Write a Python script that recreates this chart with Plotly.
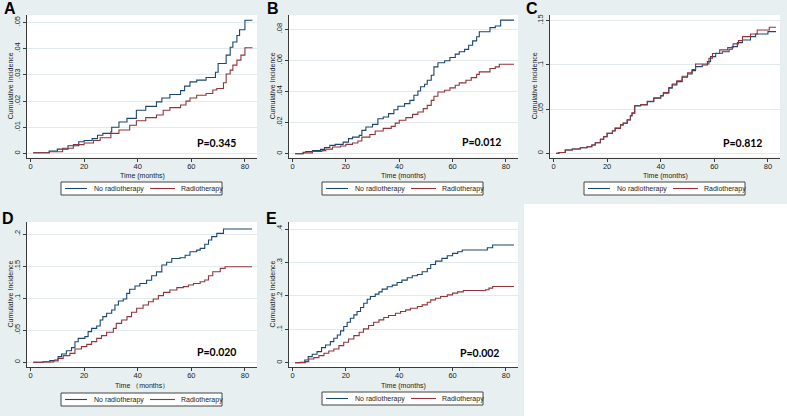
import plotly.graph_objects as go

# ---------------- data ----------------
x_tick_vals = [0, 20, 40, 60, 80]
x_tick_text = ["0", "20", "40", "60", "80"]

# Panel A
a_time_no = [1, 7, 10, 14, 18, 20, 23, 25, 27, 30, 30.3, 33, 36, 39.5, 43, 47, 49, 52, 56, 57.5, 59.5, 62, 65.5, 69, 70, 73, 74.5, 75.5, 77, 78, 80, 82.8]
a_inc_no = [0.0003, 0.001, 0.0017, 0.003, 0.0045, 0.005, 0.0057, 0.007, 0.0077, 0.0083, 0.010, 0.012, 0.0134, 0.0165, 0.018, 0.0197, 0.0212, 0.0225, 0.024, 0.0257, 0.0273, 0.028, 0.029, 0.031, 0.0343, 0.0375, 0.0405, 0.0425, 0.045, 0.0472, 0.0508, 0.0508]
a_time_rt = [1, 7, 12, 16, 20, 23.5, 26, 30, 33, 37, 39.5, 43, 47, 49.5, 52, 56, 58, 59.5, 62, 65.5, 68, 69.5, 72, 73, 74.5, 75.5, 77, 78.5, 80, 82.8]
a_inc_rt = [0.0003, 0.0007, 0.002, 0.0034, 0.004, 0.005, 0.006, 0.0077, 0.009, 0.0108, 0.0125, 0.0137, 0.0147, 0.0165, 0.0175, 0.0185, 0.020, 0.0212, 0.0222, 0.0229, 0.0242, 0.0248, 0.027, 0.0303, 0.0318, 0.0337, 0.0356, 0.0375, 0.0403, 0.0403]
a_y_ticks = [0, 0.01, 0.02, 0.03, 0.04, 0.05]
a_y_text = ["0", ".01", ".02", ".03", ".04", ".05"]

# Panel B
b_time_no = [1, 4, 5, 7.5, 10.5, 12, 14, 16, 19, 21, 22.5, 25, 26, 27.5, 30, 32, 34, 36, 38, 39.5, 42, 44, 45.5, 47, 48, 49.5, 50.5, 52, 53, 54.5, 57, 59, 61, 62.5, 64.5, 66, 67.5, 69, 70, 74, 76, 78, 83]
b_inc_no = [0, 0.001, 0.0015, 0.002, 0.0028, 0.004, 0.0054, 0.006, 0.0075, 0.0097, 0.0107, 0.0118, 0.015, 0.0172, 0.0189, 0.0225, 0.0236, 0.0258, 0.0283, 0.0305, 0.0322, 0.0343, 0.0376, 0.0403, 0.043, 0.0446, 0.0472, 0.0504, 0.0558, 0.0584, 0.0597, 0.0618, 0.064, 0.0655, 0.067, 0.0697, 0.0725, 0.0751, 0.0783, 0.081, 0.082, 0.0858, 0.0858]
b_time_rt = [1, 4, 7.5, 11, 12.5, 15, 18, 20, 22.5, 24.5, 26, 29, 31, 34, 37, 38.5, 40, 42.5, 45, 47, 49, 50.5, 52, 53, 54.5, 57, 59, 61, 62.5, 65, 67, 69, 70, 74, 76, 77.5, 83]
b_inc_rt = [0, 0.0006, 0.0015, 0.002, 0.003, 0.0043, 0.005, 0.006, 0.0069, 0.0082, 0.0107, 0.0124, 0.0146, 0.0163, 0.0176, 0.0197, 0.0215, 0.0232, 0.0253, 0.0268, 0.029, 0.0311, 0.0343, 0.0369, 0.0397, 0.0408, 0.0423, 0.044, 0.0455, 0.0472, 0.0489, 0.051, 0.0526, 0.0547, 0.0558, 0.0575, 0.0575]
b_y_ticks = [0, 0.02, 0.04, 0.06, 0.08]
b_y_text = ["0", ".02", ".04", ".06", ".08"]

# Panel C
c_time_no = [1, 2, 4.4, 7, 10, 12.5, 14.3, 15.6, 17.5, 18.7, 20, 22, 23, 25, 26, 27.5, 28.7, 29.3, 30.3, 32.5, 35, 37.4, 40, 41, 43, 44.3, 46, 48, 50, 51.7, 53, 55.5, 57.4, 58.6, 60.5, 63, 65.5, 66.7, 68.6, 70.5, 73.5, 75.4, 80, 83]
c_inc_no = [0, 0.001, 0.0038, 0.005, 0.0064, 0.0075, 0.0094, 0.012, 0.0158, 0.0189, 0.0226, 0.0253, 0.0283, 0.032, 0.034, 0.0377, 0.0423, 0.0453, 0.0536, 0.0547, 0.0585, 0.0623, 0.065, 0.068, 0.0736, 0.0774, 0.0811, 0.086, 0.0898, 0.0936, 0.0981, 0.100, 0.1038, 0.1094, 0.1132, 0.115, 0.1177, 0.1207, 0.1253, 0.1283, 0.132, 0.135, 0.1377, 0.1377]
c_time_rt = [1, 2, 4.4, 7, 10, 12.5, 14.3, 15.6, 17.5, 18.7, 20, 22, 23, 25, 26, 27.5, 28.7, 29.3, 30.3, 32.5, 35, 37.4, 40, 41, 43, 44.3, 46, 48, 50, 51.7, 53, 58, 59.3, 62, 65, 67, 69, 70.5, 73.5, 76, 80.5, 83]
c_inc_rt = [0, 0.001, 0.0038, 0.005, 0.0064, 0.0075, 0.0094, 0.012, 0.0158, 0.0189, 0.0226, 0.0255, 0.0285, 0.0322, 0.0342, 0.038, 0.0428, 0.0458, 0.0542, 0.0552, 0.059, 0.0628, 0.0655, 0.0688, 0.0745, 0.0784, 0.0822, 0.0872, 0.091, 0.0948, 0.101, 0.1075, 0.113, 0.117, 0.1196, 0.1238, 0.1275, 0.132, 0.135, 0.1396, 0.1426, 0.1426]
c_y_ticks = [0, 0.05, 0.1, 0.15]
c_y_text = ["0", ".05", ".1", ".15"]

# Panel D
d_time_no = [1, 4.7, 7.2, 9, 10.3, 11.6, 13.4, 15.3, 16.6, 17.8, 20.3, 21.5, 22.8, 24.7, 26, 27, 28.4, 30.3, 31.5, 32.8, 34.6, 35.9, 37, 39, 40.8, 43.3, 45.2, 47, 49, 50.8, 52.7, 55.8, 57.7, 59.5, 62, 63.3, 65, 66.4, 67.6, 69.5, 72, 82.6]
d_inc_no = [0, 0.001, 0.0026, 0.0036, 0.0088, 0.013, 0.018, 0.0229, 0.032, 0.0374, 0.040, 0.0478, 0.053, 0.0566, 0.066, 0.0712, 0.0764, 0.0816, 0.0894, 0.0956, 0.0987, 0.1075, 0.114, 0.119, 0.123, 0.128, 0.135, 0.141, 0.1517, 0.156, 0.162, 0.163, 0.167, 0.1725, 0.175, 0.1777, 0.184, 0.1907, 0.196, 0.201, 0.2078, 0.2078]
d_time_rt = [1, 4.7, 8.5, 10.3, 12.2, 14.7, 16.6, 19, 21, 22.8, 24.7, 26.5, 28.4, 30.9, 32, 34, 36, 37.7, 39.6, 42, 44, 45.8, 47.7, 49.6, 52, 54.6, 57, 58.9, 60.8, 63.3, 65, 66.4, 68, 70.8, 72.6, 82.6]
d_inc_rt = [0, 0.0005, 0.002, 0.0062, 0.0104, 0.014, 0.0208, 0.0244, 0.028, 0.0322, 0.0374, 0.0416, 0.0468, 0.053, 0.0608, 0.066, 0.0712, 0.078, 0.0842, 0.0894, 0.0945, 0.0987, 0.104, 0.109, 0.1127, 0.1164, 0.118, 0.1205, 0.123, 0.1257, 0.1283, 0.135, 0.1413, 0.1465, 0.149, 0.149]
d_y_ticks = [0, 0.05, 0.1, 0.15, 0.2]
d_y_text = ["0", ".05", ".1", ".15", ".2"]

# Panel E
e_time_no = [1, 3, 4.6, 5.9, 7.4, 9.2, 10.9, 12.4, 14.2, 15.5, 16.8, 18, 19.2, 20.5, 21.7, 23, 24.2, 25.5, 26.7, 28, 29.2, 31, 32.4, 33.6, 35.5, 37.4, 39.2, 41, 43, 44.9, 46.8, 48.6, 50.5, 51.8, 53.6, 56, 58, 60, 61.9, 63.6, 73, 75, 83]
e_inc_no = [0, 0.001, 0.008, 0.018, 0.025, 0.033, 0.045, 0.053, 0.063, 0.073, 0.083, 0.095, 0.108, 0.121, 0.133, 0.143, 0.153, 0.165, 0.178, 0.19, 0.198, 0.205, 0.212, 0.22, 0.227, 0.232, 0.24, 0.247, 0.254, 0.26, 0.264, 0.272, 0.282, 0.294, 0.304, 0.312, 0.32, 0.327, 0.332, 0.337, 0.344, 0.352, 0.352]
e_time_rt = [1, 4.9, 6.1, 8, 9.9, 11.8, 13.6, 15.5, 17.4, 19.2, 21, 23, 25, 26.6, 28.5, 30.4, 32.4, 34.2, 36, 38.6, 40.5, 42.4, 44.2, 46.8, 48.6, 50.5, 51.8, 53.6, 55.5, 58, 60, 61.9, 64, 72.4, 73.6, 75, 83]
e_inc_rt = [0, 0.003, 0.011, 0.015, 0.021, 0.028, 0.035, 0.041, 0.051, 0.061, 0.071, 0.081, 0.091, 0.101, 0.111, 0.121, 0.128, 0.135, 0.141, 0.148, 0.153, 0.158, 0.163, 0.168, 0.173, 0.181, 0.188, 0.193, 0.198, 0.203, 0.208, 0.212, 0.216, 0.218, 0.223, 0.228, 0.228]
e_y_ticks = [0, 0.1, 0.2, 0.3, 0.4]
e_y_text = ["0", ".1", ".2", ".3", ".4"]

panel_letters = ["A", "B", "C", "D", "E"]
p_values = ["P=0.345", "P=0.012", "P=0.812", "P=0.020", "P=0.002"]
x_titles = ["Time (months)", "Time (months)", "Time (months)", "Time （months）", "Time (months)"]
y_title = "Cumulative Incidence"
series_names = ["No radiotherapy", "Radiotherapy"]

# ---------------- styling / layout ----------------
W, H = 787, 416
NAVY = "#1a476f"
MAROON = "#90353b"
BG = "rgb(232,239,241)"
GRID = "rgb(226,234,237)"
AXC = "#3a3a3a"
FONT = "Liberation Sans, Arial, sans-serif"
FS = 7          # titles / legend text
FS_TICK = 7.5   # tick labels

panels = [
    dict(tn=a_time_no, yn=a_inc_no, tr=a_time_rt, yr=a_inc_rt, yt=a_y_ticks, ytt=a_y_text,
         yrange=[-0.0015, 0.0528], px=(27, 257), py=(15, 157.5), letter=(10, 8), pv=(216, 143),
         leg=(61, 182), xt=175.5, ytx=10),
    dict(tn=b_time_no, yn=b_inc_no, tr=b_time_rt, yr=b_inc_rt, yt=b_y_ticks, ytt=b_y_text,
         yrange=[-0.0024, 0.0891], px=(289, 518), py=(15, 157.5), letter=(273, 8), pv=(481, 142),
         leg=(322, 182), xt=175.5, ytx=272),
    dict(tn=c_time_no, yn=c_inc_no, tr=c_time_rt, yr=c_inc_rt, yt=c_y_ticks, ytt=c_y_text,
         yrange=[-0.0047, 0.1565], px=(550, 780), py=(15, 157.5), letter=(532, 8), pv=(742, 143),
         leg=(584, 182), xt=175.5, ytx=534),
    dict(tn=d_time_no, yn=d_inc_no, tr=d_time_rt, yr=d_inc_rt, yt=d_y_ticks, ytt=d_y_text,
         yrange=[-0.0073, 0.2188], px=(27, 257), py=(222, 367), letter=(8, 218), pv=(216, 352),
         leg=(61, 393), xt=385.5, ytx=10),
    dict(tn=e_time_no, yn=e_inc_no, tr=e_time_rt, yr=e_inc_rt, yt=e_y_ticks, ytt=e_y_text,
         yrange=[-0.013, 0.421], px=(289, 518), py=(222, 367), letter=(271, 218), pv=(479, 353),
         leg=(322, 392), xt=385.5, ytx=272),
]

# legend box geometry (relative to its top-left corner), in pixels
LEG_W, LEG_H = 161, 13
LEG_ITEMS = [(4, 26, 31), (89, 114, 118)]  # line start, line end, text start

fig = go.Figure()
layout = dict(
    width=W, height=H, autosize=False,
    margin=dict(l=0, r=0, t=0, b=0),
    paper_bgcolor=BG, plot_bgcolor="white",
    font=dict(family=FONT, size=FS, color="#222"),
    showlegend=False,
    annotations=[], shapes=[],
)


def px2x(v):
    return v / W


def px2y(v):
    return 1 - v / H


colors = [NAVY, MAROON]
for i, p in enumerate(panels):
    s = "" if i == 0 else str(i + 1)
    for t, y, name, col in [(p["tn"], p["yn"], series_names[0], NAVY), (p["tr"], p["yr"], series_names[1], MAROON)]:
        fig.add_trace(go.Scatter(
            x=t, y=y, mode="lines", name=name, line=dict(color=col, width=1.1, shape="hv"),
            xaxis="x" + s, yaxis="y" + s, hoverinfo="skip"))
    layout["xaxis" + s] = dict(
        domain=[px2x(p["px"][0]), px2x(p["px"][1])], anchor="y" + s, range=[-1.3, 84.5],
        tickmode="array", tickvals=x_tick_vals, ticktext=x_tick_text,
        ticks="outside", ticklen=3, tickcolor=AXC, showline=True, linecolor=AXC, linewidth=1,
        showgrid=False, zeroline=False, tickfont=dict(size=FS_TICK, color="#222"),
        ticklabelstandoff=-2,
    )
    layout["yaxis" + s] = dict(
        domain=[px2y(p["py"][1]), px2y(p["py"][0])], anchor="x" + s, range=p["yrange"],
        tickmode="array", tickvals=p["yt"], ticktext=p["ytt"], tickangle=-90,
        ticks="outside", ticklen=3, tickcolor=AXC, showline=True, linecolor=AXC, linewidth=1,
        showgrid=True, gridcolor=GRID, gridwidth=1, zeroline=False, tickfont=dict(size=FS_TICK, color="#222"),
    )
    # axis titles
    layout["annotations"].append(dict(
        text=x_titles[i], x=px2x((p["px"][0] + p["px"][1]) / 2), y=px2y(p["xt"]),
        xref="paper", yref="paper", showarrow=False, xanchor="center", yanchor="middle",
        font=dict(size=FS, family=FONT, color="#222")))
    layout["annotations"].append(dict(
        text=y_title, x=px2x(p["ytx"]), y=px2y((p["py"][0] + p["py"][1]) / 2), textangle=-90,
        xref="paper", yref="paper", showarrow=False, xanchor="center", yanchor="middle",
        font=dict(size=FS, family=FONT, color="#222")))
    # panel letter and P value
    layout["annotations"].append(dict(
        text="<b>%s</b>" % panel_letters[i], x=px2x(p["letter"][0]), y=px2y(p["letter"][1]),
        xref="paper", yref="paper", showarrow=False, xanchor="center", yanchor="middle",
        font=dict(size=16, family="Liberation Sans, Arial", color="black")))
    layout["annotations"].append(dict(
        text="<b>%s</b>" % p_values[i], x=px2x(p["pv"][0]), y=px2y(p["pv"][1]),
        xref="paper", yref="paper", showarrow=False, xanchor="center", yanchor="middle",
        font=dict(size=10.5, family="Lato, Open Sans, sans-serif", color="black")))
    # legend (Stata style box below each panel)
    lx, ly = p["leg"]
    layout["shapes"].append(dict(type="rect", xref="paper", yref="paper",
                                 x0=px2x(lx), x1=px2x(lx + LEG_W), y0=px2y(ly + LEG_H), y1=px2y(ly),
                                 fillcolor="white", line=dict(color="#444", width=1)))
    cy = ly + LEG_H / 2
    for (l0, l1, tx), name, col in zip(LEG_ITEMS, series_names, colors):
        layout["shapes"].append(dict(type="line", xref="paper", yref="paper",
                                     x0=px2x(lx + l0), x1=px2x(lx + l1), y0=px2y(cy), y1=px2y(cy),
                                     line=dict(color=col, width=1.1)))
        layout["annotations"].append(dict(
            text=name, x=px2x(lx + tx), y=px2y(cy), xref="paper", yref="paper", showarrow=False,
            xanchor="left", yanchor="middle", font=dict(size=FS, family=FONT, color="#222")))

# blank (white) area at bottom right, where no sixth panel is drawn
layout["shapes"].append(dict(type="rect", xref="paper", yref="paper", x0=524 / W, x1=1.0, y0=0, y1=px2y(204),
                             fillcolor="white", line=dict(width=0), layer="below"))

fig.update_layout(**layout)
fig.write_html("out.html", config={"displayModeBar": False},
               post_script="document.body.style.margin='0';document.body.style.overflow='hidden';")
